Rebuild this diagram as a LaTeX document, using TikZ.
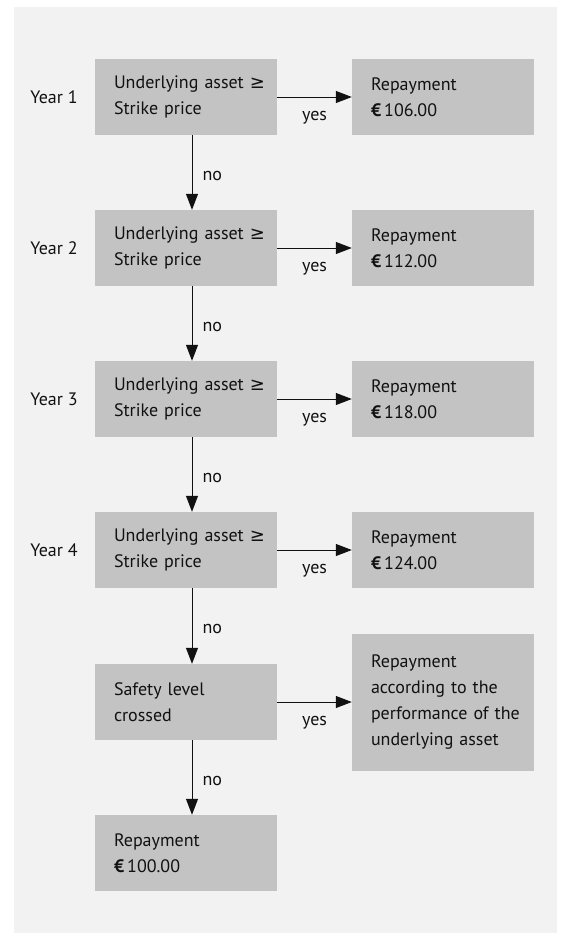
\documentclass[tikz,border=0pt]{standalone}
\usepackage{fontspec}
\setmainfont{PT Sans}
\newfontfamily\symfont{DejaVu Sans}
\usetikzlibrary{arrows.meta,positioning}
\definecolor{panelgray}{HTML}{F2F2F2}
\definecolor{boxgray}{HTML}{C3C3C3}
\definecolor{inkblack}{HTML}{111111}
\tikzset{
  box/.style={fill=boxgray, text=inkblack, minimum height=76pt, text width=182pt,
    inner xsep=0pt, inner ysep=0pt, font=\fontsize{18}{26}\selectfont,
    execute at begin node={\raggedright\leftskip=19pt\relax}},
  lbl/.style={text=inkblack, inner sep=0pt, font=\fontsize{18}{26}\selectfont},
  arr/.style={-{Triangle[length=16pt,width=12pt]}, line width=1pt, inkblack}
}
\begin{document}
\begin{tikzpicture}[x=1pt,y=-1pt]
\fill[panelgray] (14,7) rectangle (557,933);
\useasboundingbox (0,0) rectangle (560,935);

\foreach \i/\amt in {1/106.00,2/112.00,3/118.00,4/124.00} {
\node[box] (test\i) at (186,{97+151*(\i-1)}) {Underlying asset {\symfont ≥}\\Strike price};
\node[box] (pay\i) at (443,{97+151*(\i-1)}) {Repayment\\{\bfseries €}\,\amt};
\node[lbl,left=17pt of test\i] (year\i) {Year \i};
\draw[arr] (test\i) -- node[lbl,below=14pt] (yes\i) {yes} (pay\i);
}

\node[box] (safety) at (186,702) {Safety level\\crossed};
\node[box,minimum height=137pt] (perf) at (443,702) {Repayment\\according to the\\performance of the\\underlying asset};
\node[box] (base) at (186,853) {Repayment\\{\bfseries €}\,100.00};
\draw[arr] (safety) -- node[lbl,below=14pt] (yes5) {yes} (perf);

\foreach \a/\b in {test1/test2,test2/test3,test3/test4,test4/safety,safety/base}
\draw[arr] ([xshift=6pt]\a.south) -- node[lbl,right=10pt,yshift=-3pt] (no\a) {no} ([xshift=6pt]\b.north);
\end{tikzpicture}
\end{document}
